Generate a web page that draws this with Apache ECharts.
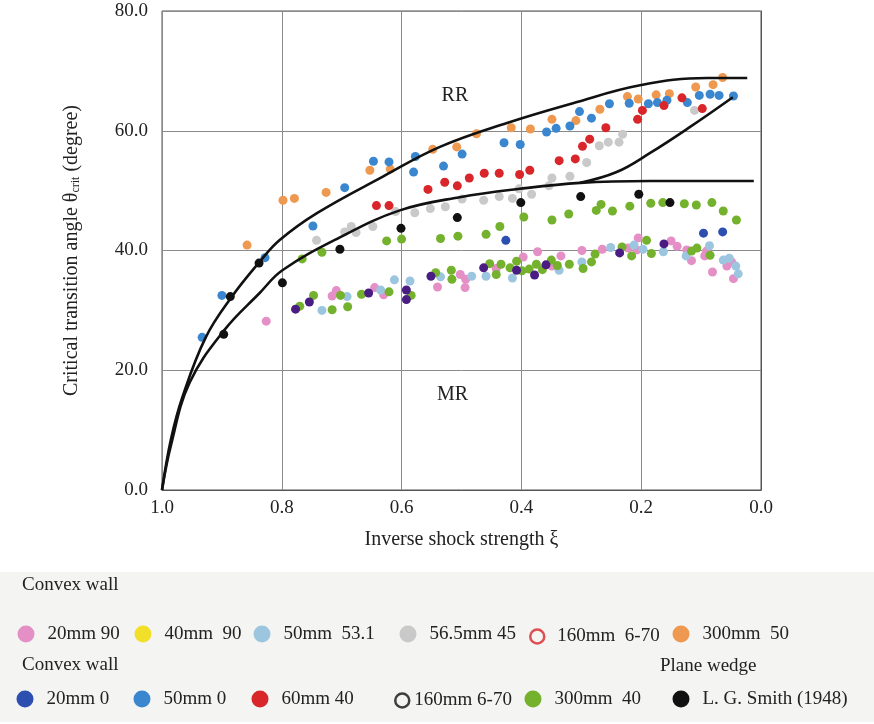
<!DOCTYPE html>
<html>
<head>
<meta charset="utf-8">
<script src="https://cdn.jsdelivr.net/npm/echarts@6/dist/echarts.min.js"></script>
<style>
    html, body {margin: 0; padding: 0; background: #fff;}
    #app {width: 874px; height: 724px;}
</style>
</head>
<body>
<div id="app"></div>
<script>
// 坐标轴刻度
let xTicks = [1.0, 0.8, 0.6, 0.4, 0.2, 0.0];
let yTicks = [0, 20, 40, 60, 80];

// 实验数据 [ξ, θ]
let pink20mm90 = [[0.826,28.2],[0.716,32.4],[0.709,33.3],[0.645,33.8],[0.630,32.6],[0.540,33.9],[0.502,36.0],[0.494,33.8],[0.493,35.2],[0.442,37.0],[0.397,38.9],[0.373,39.8],[0.349,37.4],[0.334,39.1],[0.299,40.0],[0.265,40.2],[0.222,40.4],[0.205,42.1],[0.207,40.1],[0.150,41.6],[0.140,40.7],[0.124,40.1],[0.116,38.3],[0.094,39.1],[0.091,39.9],[0.081,36.4],[0.057,37.4],[0.049,38.1],[0.046,35.3]];
let yellow40mm90 = [];
let cyan50mm531 = [[0.733,30.0],[0.691,32.3],[0.635,33.4],[0.612,35.1],[0.586,34.9],[0.535,35.6],[0.483,35.7],[0.459,35.7],[0.415,35.4],[0.337,36.7],[0.299,38.1],[0.251,40.5],[0.212,40.9],[0.197,40.2],[0.163,39.8],[0.125,39.1],[0.086,40.8],[0.063,38.4],[0.053,38.7],[0.042,37.4],[0.038,36.1]];
let gray565mm45 = [[0.742,41.7],[0.695,43.1],[0.684,44.0],[0.676,43.0],[0.648,44.0],[0.610,46.5],[0.578,46.3],[0.552,47.0],[0.527,47.3],[0.499,48.6],[0.463,48.4],[0.437,49.0],[0.415,48.7],[0.404,50.3],[0.383,49.4],[0.354,50.8],[0.349,52.1],[0.319,52.4],[0.291,54.7],[0.270,57.5],[0.255,58.1],[0.237,58.1],[0.231,59.4],[0.111,63.4]];
let red160mm = [];
let orange300mm50 = [[0.858,40.9],[0.798,48.4],[0.779,48.7],[0.726,49.7],[0.653,53.4],[0.619,53.6],[0.548,56.9],[0.508,57.3],[0.475,59.5],[0.417,60.5],[0.385,60.3],[0.349,61.9],[0.309,61.7],[0.269,63.6],[0.223,65.7],[0.205,65.3],[0.175,66.0],[0.153,66.2],[0.109,67.3],[0.080,67.7],[0.064,68.9]];
let navy20mm0 = [[0.426,41.7],[0.096,42.9],[0.064,43.1]];
let blue50mm0 = [[0.933,25.5],[0.900,32.5],[0.828,38.8],[0.748,44.1],[0.695,50.5],[0.647,54.9],[0.621,54.8],[0.580,53.1],[0.577,55.7],[0.530,54.1],[0.499,56.1],[0.429,58.0],[0.402,57.7],[0.358,59.8],[0.342,60.4],[0.319,60.8],[0.303,63.2],[0.283,62.1],[0.253,64.5],[0.220,64.6],[0.188,64.5],[0.173,64.7],[0.157,65.1],[0.123,64.7],[0.103,65.9],[0.085,66.1],[0.070,65.9],[0.046,65.8]];
let red60mm40 = [[0.642,47.5],[0.621,47.5],[0.556,50.2],[0.528,51.4],[0.507,50.8],[0.487,52.1],[0.462,52.9],[0.437,52.9],[0.403,52.7],[0.386,53.4],[0.337,55.0],[0.310,55.3],[0.298,57.4],[0.286,58.6],[0.259,60.5],[0.206,61.9],[0.198,63.4],[0.162,64.2],[0.132,65.5],[0.098,63.7]];
let black160mm = [];
let green300mm40 = [[0.766,38.6],[0.733,39.7],[0.625,41.6],[0.600,41.9],[0.535,42.0],[0.506,42.4],[0.459,42.7],[0.436,44.0],[0.396,45.6],[0.349,45.1],[0.321,46.1],[0.275,46.7],[0.267,47.7],[0.248,46.6],[0.219,47.4],[0.184,47.9],[0.164,48.0],[0.128,47.8],[0.108,47.6],[0.082,48.0],[0.063,46.6],[0.041,45.1],
    [0.770,30.7],[0.747,32.5],[0.716,30.1],[0.702,32.5],[0.690,30.6],[0.667,32.7],[0.621,33.1],[0.584,32.5],[0.543,36.3],[0.517,36.7],[0.516,35.2],[0.453,37.8],[0.442,36.0],[0.434,37.7],[0.419,37.1],[0.408,38.2],[0.399,36.6],[0.387,36.9],[0.375,37.7],[0.365,36.8],[0.350,38.4],[0.340,37.5],[0.320,37.7],[0.297,37.0],[0.283,38.1],[0.277,39.4],[0.232,40.6],[0.216,39.1],[0.191,41.7],[0.183,39.5],[0.116,39.9],[0.107,40.4],[0.085,39.2]];
let smith1948 = [[0.897,26.0],[0.886,32.3],[0.838,37.9],[0.799,34.6],[0.703,40.2],[0.601,43.7],[0.507,45.5],[0.401,48.0],[0.301,49.0],[0.204,49.4],[0.152,48.0]];
let purplePts = [[0.777,30.2],[0.754,31.4],[0.655,32.9],[0.592,33.4],[0.592,31.8],[0.551,35.7],[0.463,37.1],[0.408,36.7],[0.378,35.9],[0.359,37.6],[0.236,39.6],[0.162,41.1]];

// 边界曲线
let upperCurve = [[1.0,0],[0.985,8.5],[0.966,15.5],[0.927,25.5],[0.884,32.2],[0.837,38.1],[0.804,41.7],[0.742,46.2],[0.632,52.3],[0.536,57.3],[0.424,61.3],[0.314,64.6],[0.202,67.6],[0.090,68.8],[0.023,68.8]];
let lowerCurve = [[1.0,0],[0.985,7.5],[0.954,17.9],[0.896,26.7],[0.837,32.9],[0.799,36.7],[0.703,42.2],[0.603,46.7],[0.503,48.9],[0.403,50.3],[0.302,51.3],[0.185,51.6],[0.012,51.6]];
let branchCurve = [[0.302,51.3],[0.241,53.1],[0.185,56.3],[0.119,60.6],[0.047,65.6]];

let serif = "'Liberation Serif', 'DejaVu Serif', serif";

let myChart = echarts.init(document.querySelector("#app"));

// 散点系列
let dots = (name, data, color, hollow) => ({
    name: name,
    type: "scatter",
    data: data,
    symbol: hollow ? "emptyCircle" : "circle",
    symbolSize: 9,
    itemStyle: hollow ? {color: color, borderColor: color, borderWidth: 2.5} : {color: color, opacity: 1},
    z: 3
});
let curve = (data, extra) => Object.assign({
    type: "line",
    data: data,
    smooth: 0.4,
    showSymbol: false,
    silent: true,
    lineStyle: {color: "#111", width: 2.6},
    z: 4
}, extra || {});

// 图例：每项一个 legend，手动摆放
let legendItem = (name, cx, cy, hollow, color, pad) => {
    let size = hollow ? 14 : 17;
    let item = {name: name, icon: "circle"};
    if (hollow) {
        item.itemStyle = {color: "#f4f4f2", borderColor: color, borderWidth: 2.5};
    }
    return {
        left: cx - size / 2,
        top: cy - size / 2,
        padding: 0,
        itemWidth: size,
        itemHeight: size,
        selectedMode: false,
        data: [item],
        textStyle: {fontFamily: serif, fontSize: 19, color: "#222", padding: [0, 0, 0, pad == null ? 8 : pad]}
    };
};

myChart.setOption({
    backgroundColor: "#fff",
    animation: false,
    grid: {
        left: 162, right: 113, top: 11, bottom: 234,
        show: true, borderColor: "#555", borderWidth: 1, backgroundColor: "#fff"
    },
    graphic: [
        {type: "rect", shape: {x: 0, y: 572, width: 874, height: 150}, style: {fill: "#f4f4f2"}, z: -10},
        {type: "text", left: 22, top: 576, style: {text: "Convex wall", font: "19px " + serif, fill: "#222"}},
        {type: "text", left: 22, top: 656, style: {text: "Convex wall", font: "19px " + serif, fill: "#222"}},
        {type: "text", left: 660, top: 657, style: {text: "Plane wedge", font: "19px " + serif, fill: "#222"}}
    ],
    legend: [
        legendItem("20mm 90", 26, 633),
        legendItem("40mm  90", 143, 633),
        legendItem("50mm  53.1", 262, 633),
        legendItem("56.5mm 45", 408, 633),
        legendItem("160mm  6-70", 536, 634, true, "#d8262a", 8),
        legendItem("300mm  50", 681, 633),
        legendItem("20mm 0", 25, 698),
        legendItem("50mm 0", 142, 698),
        legendItem("60mm 40", 260, 698),
        legendItem("160mm 6-70", 401, 698, true, "#111", 0),
        legendItem("300mm  40", 533, 698),
        legendItem("L. G. Smith (1948)", 681, 698)
    ],
    xAxis: {
        type: "value",
        inverse: true,
        min: 0,
        max: 1,
        interval: 0.2,
        name: "Inverse shock strength ξ",
        nameLocation: "middle",
        nameGap: 40,
        nameTextStyle: {fontFamily: serif, fontSize: 20, color: "#222"},
        axisLine: {show: true, lineStyle: {color: "#555", width: 1}},
        axisTick: {show: false},
        axisLabel: {
            fontFamily: serif, fontSize: 19, color: "#222", margin: 9,
            formatter: (v) => v.toFixed(1)
        },
        splitLine: {show: true, lineStyle: {color: "#8a8a8a", width: 1}}
    },
    yAxis: {
        type: "value",
        min: 0,
        max: 80,
        interval: 20,
        name: "Critical transition angle θ{sub|crit} (degree)",
        nameLocation: "middle",
        nameGap: 80,
        nameRotate: 90,
        nameTextStyle: {
            fontFamily: serif, fontSize: 20, color: "#222",
            rich: {sub: {fontFamily: serif, fontSize: 12, color: "#222", verticalAlign: "bottom", padding: [6, 0, 0, 0]}}
        },
        axisLine: {show: true, lineStyle: {color: "#555", width: 1}},
        axisTick: {show: false},
        axisLabel: {
            fontFamily: serif, fontSize: 19, color: "#222", margin: 14,
            formatter: (v) => v.toFixed(1)
        },
        splitLine: {show: true, lineStyle: {color: "#8a8a8a", width: 1}}
    },
    series: [
        curve(upperCurve, {
            markPoint: {
                symbol: "circle",
                symbolSize: 1,
                itemStyle: {color: "transparent"},
                label: {show: true, position: "inside", formatter: "{b}", fontFamily: serif, fontSize: 20, color: "#222"},
                data: [
                    {name: "RR", coord: [0.511, 65.9]},
                    {name: "MR", coord: [0.515, 15.9]}
                ]
            }
        }),
        curve(lowerCurve),
        curve(branchCurve),
        dots("20mm 90", pink20mm90, "#e48fc6"),
        dots("40mm  90", yellow40mm90, "#f2df2a"),
        dots("50mm  53.1", cyan50mm531, "#9cc6df"),
        dots("56.5mm 45", gray565mm45, "#c9c9c9"),
        dots("160mm  6-70", red160mm, "#d8262a", true),
        dots("300mm  50", orange300mm50, "#ee9850"),
        dots("20mm 0", navy20mm0, "#2d4fb0"),
        dots("50mm 0", blue50mm0, "#3a87d0"),
        dots("60mm 40", red60mm40, "#d8262a"),
        dots("160mm 6-70", black160mm, "#111", true),
        dots("300mm  40", green300mm40, "#74b22e"),
        dots("L. G. Smith (1948)", smith1948, "#111"),
        dots("other", purplePts, "#4a1d82")
    ]
});
</script>
</body>
</html>
